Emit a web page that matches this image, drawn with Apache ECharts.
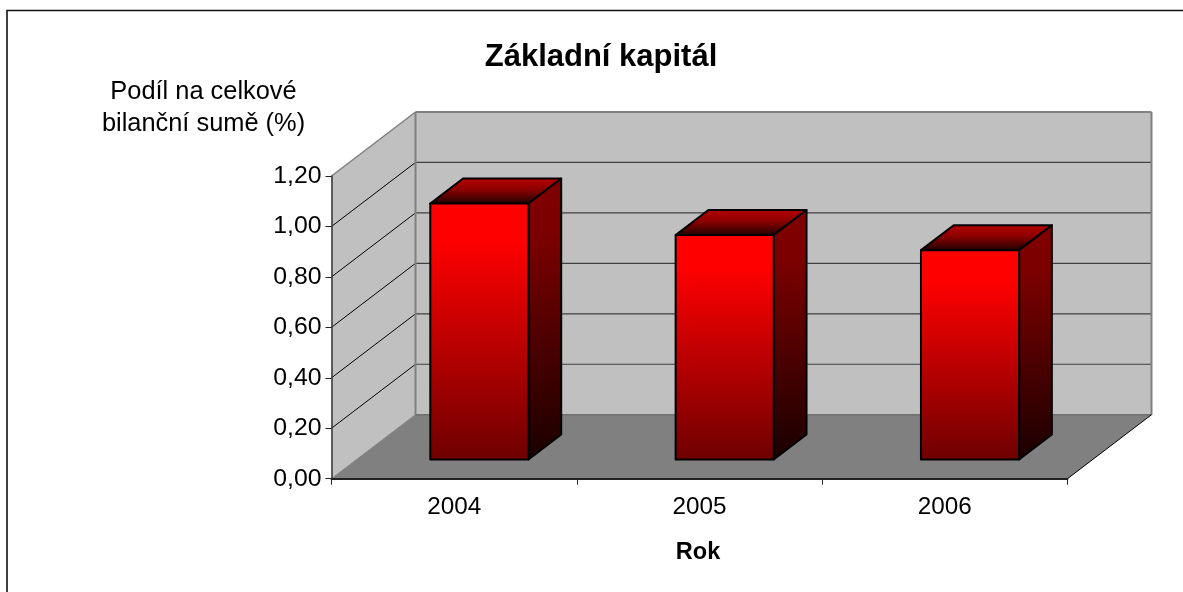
<!DOCTYPE html>
<html>
<head>
<meta charset="utf-8">
<style>html,body{margin:0;padding:0;background:#fff}#c{width:1183px;height:592px}</style>
<script src="https://cdn.jsdelivr.net/npm/echarts@6/dist/echarts.min.js"></script>
</head>
<body>
<div id="c"></div>
<script>
const categories = ['2004', '2005', '2006'];
const values = [1.015, 0.89, 0.83];
const yTicks = [0, 0.2, 0.4, 0.6, 0.8, 1.0, 1.2];
const titleText = 'Základní kapitál';
const yTitleLines = ['Podíl na celkové', 'bilanční sumě (%)'];
const xTitleText = 'Rok';

const FONT = '"Liberation Sans", Arial, sans-serif';
const DEPTH_X = 84, DEPTH_Y = -64;
const BAR_D0 = 0.30, BAR_D1 = 0.69, BAR_W = 0.4;
const proj = (p, d) => [p[0] + DEPTH_X * d, p[1] + DEPTH_Y * d];

function renderWalls(params, api) {
  const cs = params.coordSys;
  const x0 = cs.x, x1 = cs.x + cs.width;
  const yBot = api.coord([0, 0])[1];
  const yTop = api.coord([0, yTicks[yTicks.length - 1]])[1];
  const A = [x0, yBot], B = [x1, yBot], C = [x0, yTop];
  const A2 = proj(A, 1), B2 = proj(B, 1), C2 = proj(C, 1), D2 = [B2[0], C2[1]];
  const children = [];
  const poly = (pts, fill, stroke, lw) => children.push({
    type: 'polygon', shape: { points: pts },
    style: { fill: fill, stroke: stroke || null, lineWidth: lw || 0 }
  });
  const line = (p, q, stroke, lw) => children.push({
    type: 'polyline', shape: { points: [p, q] },
    style: { fill: null, stroke: stroke, lineWidth: lw }
  });
  poly([C2, D2, B2, A2], '#c0c0c0');
  poly([C, C2, A2, A], '#c0c0c0');
  yTicks.slice(1, -1).forEach(function (t) {
    const y = api.coord([0, t])[1];
    line([x0, y], proj([x0, y], 1), '#000', 1);
    const b = proj([x0, y], 1);
    line(b, [B2[0], b[1]], '#404040', 1.2);
  });
  poly([A, B, B2, A2], '#808080');
  line(C2, D2, '#808080', 2);
  line(D2, B2, '#808080', 2);
  line(C2, A2, '#808080', 2);
  line(A2, B2, '#707070', 1.5);
  line(C, C2, '#808080', 1.5);
  line(A, A2, '#808080', 1);
  line(B, B2, '#000', 1);
  return { type: 'group', children: children };
}

function renderBar(params, api) {
  const i = api.value(0);
  const top = api.coord([i, api.value(1)]);
  const bot = api.coord([i, 0]);
  const w = api.size([1, 0])[0] * BAR_W;
  const fl = top[0] - w / 2, fr = top[0] + w / 2;
  const a = proj([fl, top[1]], BAR_D0), b = proj([fr, top[1]], BAR_D0);
  const c = proj([fr, bot[1]], BAR_D0), d = proj([fl, bot[1]], BAR_D0);
  const a2 = proj([fl, top[1]], BAR_D1), b2 = proj([fr, top[1]], BAR_D1);
  const c2 = proj([fr, bot[1]], BAR_D1);
  const grad = (stops) => ({
    type: 'linear', x: 0, y: 0, x2: 0, y2: 1,
    colorStops: stops.map(s => ({ offset: s[0], color: s[1] }))
  });
  const edge = { stroke: '#000', lineWidth: 2, lineJoin: 'round' };
  return {
    type: 'group',
    children: [
      { type: 'polygon', shape: { points: [a, a2, b2, b] },
        style: Object.assign({ fill: grad([[0, '#b80000'], [0.45, '#8c0000'], [1, '#1c0000']]) }, edge) },
      { type: 'polygon', shape: { points: [b, b2, c2, c] },
        style: Object.assign({ fill: grad([[0, '#800000'], [0.2, '#7c0000'], [1, '#1a0000']]) }, edge) },
      { type: 'polygon', shape: { points: [a, b, c, d] },
        style: Object.assign({ fill: grad([[0, '#ff0000'], [0.15, '#ff0000'], [1, '#6e0000']]) }, edge) }
    ]
  };
}

const chart = echarts.init(document.getElementById('c'), null, { renderer: 'canvas' });
const titleBase = (text, left, top, size, weight) => ({
  text: text, left: left, top: top, textAlign: 'center',
  textStyle: { fontFamily: FONT, fontSize: size, fontWeight: weight, color: '#000' }
});
chart.setOption({
  animation: false,
  backgroundColor: '#fff',
  title: [
    titleBase(titleText, 596, 37, 31, 'bold'),
    titleBase(yTitleLines[0], 198.5, 74, 25.4, 'normal'),
    titleBase(yTitleLines[1], 198.5, 106, 25.4, 'normal'),
    titleBase(xTitleText, 693, 536, 23.5, 'bold')
  ],
  grid: { left: 331.5, top: 176, width: 736, height: 302.7, containLabel: false },
  xAxis: {
    type: 'category', data: categories, z: 4,
    axisLine: { lineStyle: { color: '#222', width: 2 } },
    axisTick: { show: true, alignWithLabel: false, length: 6, lineStyle: { color: '#222', width: 1 } },
    axisLabel: { fontFamily: FONT, fontSize: 24.3, color: '#000', margin: 16.5 },
    splitLine: { show: false }
  },
  yAxis: {
    type: 'value', min: 0, max: 1.2, interval: 0.2, z: 4,
    axisLine: { show: true, lineStyle: { color: '#333', width: 1.5 } },
    axisTick: { show: true, length: 6, lineStyle: { color: '#222', width: 1 } },
    axisLabel: { fontFamily: FONT, fontSize: 24.8, color: '#000', margin: 10, padding: [6, 0, 0, 0],
      formatter: v => v.toFixed(2).replace('.', ',') },
    splitLine: { show: false }
  },
  graphic: [
    { type: 'polyline', silent: true, z: 10,
      shape: { points: [[7, 592], [7, 10.5], [1183, 10.5]] },
      style: { fill: null, stroke: '#111', lineWidth: 1.6 } }
  ],
  series: [
    { type: 'custom', z: 1, silent: true, coordinateSystem: 'cartesian2d',
      renderItem: renderWalls, data: [[0, 0]], encode: { x: 0, y: 1 } },
    { type: 'custom', z: 6, silent: true, coordinateSystem: 'cartesian2d',
      renderItem: renderBar, data: values.map((v, i) => [i, v]), encode: { x: 0, y: 1 } }
  ]
});
</script>
</body>
</html>
